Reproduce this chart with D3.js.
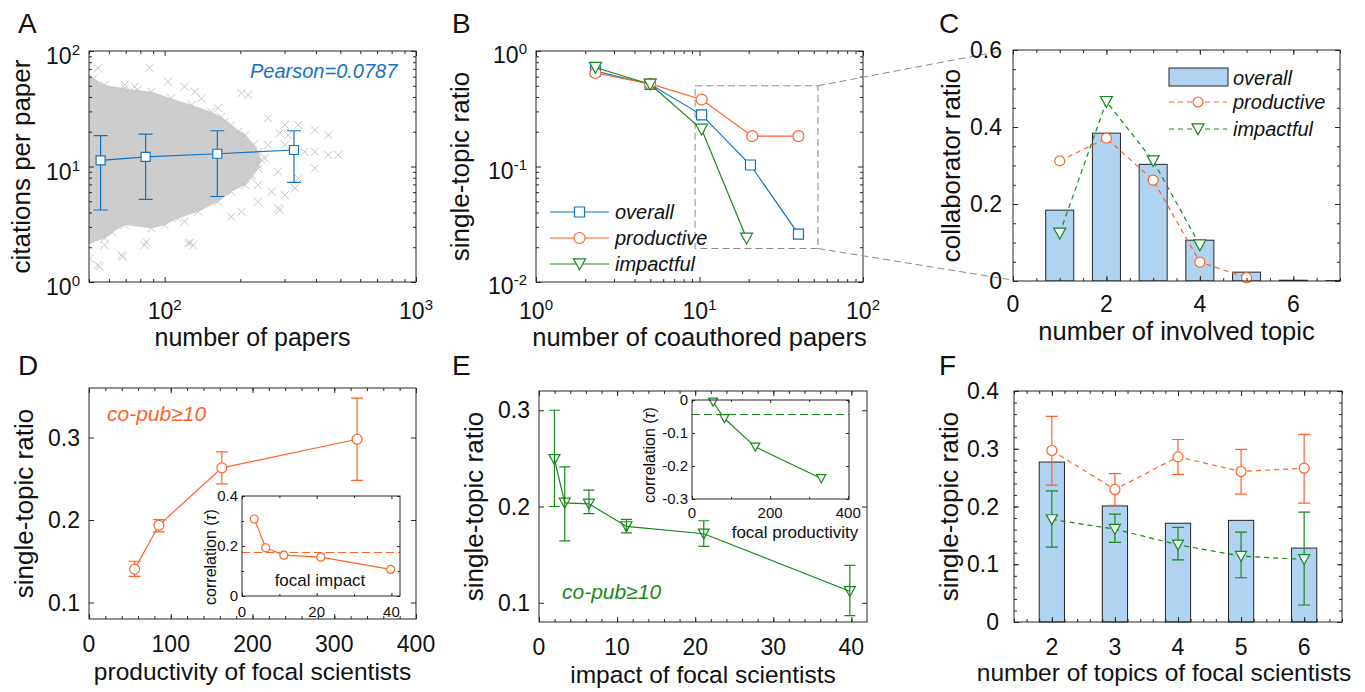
<!DOCTYPE html>
<html>
<head>
<meta charset="utf-8">
<script src="https://cdn.jsdelivr.net/npm/d3@7"></script>
<style>
  body { margin: 0; background: #fff; }
  svg text { font-family: "Liberation Sans", Arial, Helvetica, sans-serif; fill: #111; }
</style>
</head>
<body>
<script>
// ---------- data ----------
// A: citations per paper vs number of papers
var aPapers = [55.6, 84, 162, 327];
var aCiteMean = [11.3, 12.1, 12.9, 13.9];
var aCiteHi = [18.5, 19.1, 20.4, 20.4];
var aCiteLo = [4.2, 5.2, 5.5, 7.3];
// outline of the dense part of the scatter cloud
var aCloudEdge = [[46, 62], [52, 58], [57.7, 50.8], [69.3, 47.5], [78, 46], [88.6, 44.4], [106, 38.9], [128, 34.1],
  [153, 29.8], [168, 27], [184, 22.9], [209, 18.7], [226, 15.5], [236, 13.4], [242, 11.5], [236, 9.6],
  [222, 8.3], [209, 6.9], [184, 6.05], [163, 4.95], [136, 4.06], [113, 3.56], [100, 3.1], [88.5, 2.92],
  [69.3, 3.12], [62, 2.7], [57.7, 2.39], [46, 2.0]];
// scattered individual scientists outside the dense part
var aScatter = [[54.2, 70.8], [87.1, 71.6], [202, 43.0], [215, 41.6], [258, 26.1], [301, 22.9], [340, 22.9],
  [396, 20.7], [448, 18.7], [396, 13.4], [448, 12.6], [490, 12.6], [396, 9.65], [283, 9.02], [266, 6.05],
  [301, 5.66], [330, 6.48], [283, 4.35], [235, 4.96], [184, 3.68], [202, 4.06], [120, 3.33], [83.2, 2.09],
  [84.5, 2.23], [124, 2.16], [130, 2.09], [67.3, 1.71], [54.2, 1.40], [57.7, 2.09], [50.2, 1.60], [235, 6.92],
  [221, 7.9], [235, 10.3], [202, 15.4], [196, 20.0], [173, 24.4], [163, 31.9], [140, 38.9], [132, 44.4],
  [120, 49.1], [103, 54.2], [75.9, 49.1], [69.3, 50.8], [340, 7.9], [310, 18.7], [287, 19.4], [250, 11.8],
  [258, 15.4], [301, 15.4], [361, 13.4], [287, 4.2], [55.1, 1.36], [68.1, 1.66], [126, 2.18]];
var aXTicks = [100, 1000];
var aYTicks = [1, 10, 100];

// B: single-topic ratio vs number of coauthored papers
var bOverallX = [2.31, 4.99, 10.3, 20.5, 40.3];
var bOverall = [0.67, 0.515, 0.28, 0.103, 0.026];
var bProductiveX = [2.31, 4.99, 10.3, 21, 40.3];
var bProductive = [0.645, 0.52, 0.38, 0.183, 0.183];
var bImpactfulX = [2.31, 4.99, 10.3, 19.4];
var bImpactful = [0.72, 0.515, 0.21, 0.0239];
var bZoomX = [9.4, 53];
var bZoomY = [0.0195, 0.5];
var bXTicks = [1, 10, 100];
var bYTicks = [0.01, 0.1, 1];

// C: collaborator ratio vs number of involved topic
var cTopics = [1, 2, 3, 4, 5, 6, 7];
var cOverall = [0.184, 0.384, 0.303, 0.106, 0.023, 0.002, 0.001];
var cProductive = [0.312, 0.371, 0.262, 0.049, 0.0086];
var cImpactful = [0.124, 0.466, 0.312, 0.0935];
var cXTicks = [0, 2, 4, 6];
var cYTicks = [0, 0.2, 0.4, 0.6];

// D: single-topic ratio vs productivity of focal scientists (co-pub >= 10)
var dProd = [55.8, 85.5, 162.5, 328];
var dRatio = [0.1405, 0.1936, 0.2632, 0.2979];
var dHi = [0.150, 0.2005, 0.2826, 0.3478];
var dLo = [0.1316, 0.1855, 0.2437, 0.2480];
var dXTicks = [0, 100, 200, 300, 400];
var dYTicks = [0.1, 0.2, 0.3];
var dInImpact = [3.3, 6.35, 11.2, 21.1, 39.8];
var dInCorr = [0.308, 0.193, 0.1635, 0.1555, 0.1065];
var dInCorrAll = 0.174;
var dInXTicks = [0, 20, 40];
var dInYTicks = [0, 0.2, 0.4];

// E: single-topic ratio vs impact of focal scientists (co-pub >= 10)
var eImpact = [1.98, 3.3, 6.39, 11.2, 21.1, 39.8];
var eRatio = [0.249, 0.2038, 0.2028, 0.1793, 0.1717, 0.112];
var eHi = [0.300, 0.2412, 0.2170, 0.1866, 0.1852, 0.1388];
var eLo = [0.200, 0.1643, 0.1927, 0.1727, 0.1585, 0.0866];
var eXTicks = [0, 10, 20, 30, 40];
var eYTicks = [0.1, 0.2, 0.3];
var eInProd = [54, 83, 162, 331];
var eInCorr = [-0.006, -0.056, -0.142, -0.238];
var eInCorrAll = -0.044;
var eInXTicks = [0, 200, 400];
var eInYTicks = [-0.3, -0.2, -0.1, 0];

// F: single-topic ratio vs number of topics of focal scientists
var fTopics = [2, 3, 4, 5, 6];
var fOverall = [0.277, 0.201, 0.171, 0.176, 0.128];
var fProductive = [0.297, 0.2295, 0.286, 0.2606, 0.2663];
var fProductiveHi = [0.356, 0.257, 0.316, 0.299, 0.325];
var fProductiveLo = [0.237, 0.202, 0.2555, 0.2214, 0.2058];
var fImpactful = [0.1776, 0.1608, 0.1337, 0.1141, 0.1084];
var fImpactfulHi = [0.2271, 0.1868, 0.1637, 0.1556, 0.1902];
var fImpactfulLo = [0.1297, 0.1378, 0.1077, 0.0766, 0.0294];
var fXTicks = [2, 3, 4, 5, 6];
var fYTicks = [0, 0.1, 0.2, 0.3, 0.4];

// ---------- styles ----------
var INK = "#262626", BLUE = "#1272c2", ORANGE = "#ff6326", GREEN = "#16891a";
var BAR = "#b1d3f2", CLOUD = "#cdcdcd", XMARK = "#c6c6c6";
var TICK_FS = 23, LABEL_FS = 26, LETTER_FS = 28;

var svg = d3.select("body").append("svg")
  .attr("width", 1365)
  .attr("height", 692);

// ---------- helpers ----------
// box with inward ticks on all four sides, built from d3 axes
function frame(g, x, y, o) {
  var xr = x.range(), yr = y.range();
  function ax(gen, tr, vals, len) {
    g.append("g").attr("transform", tr)
      .call(gen.tickValues(vals).tickSize(-len).tickFormat(""))
      .call(function (s) {
        s.select(".domain").remove();
        s.selectAll("line").attr("stroke", INK).attr("stroke-width", 1);
      });
  }
  var t = o.t || 5, tm = o.tm || 3;
  [[o.xMinor || [], tm], [o.xMajor, t]].forEach(function (p) {
    ax(d3.axisBottom(x), "translate(0," + yr[0] + ")", p[0], p[1]);
    ax(d3.axisTop(x), "translate(0," + yr[1] + ")", p[0], p[1]);
  });
  [[o.yMinor || [], tm], [o.yMajor, t]].forEach(function (p) {
    ax(d3.axisLeft(y), "translate(" + xr[0] + ",0)", p[0], p[1]);
    ax(d3.axisRight(y), "translate(" + xr[1] + ",0)", p[0], p[1]);
  });
  g.append("rect")
    .attr("x", xr[0]).attr("y", yr[1])
    .attr("width", xr[1] - xr[0]).attr("height", yr[0] - yr[1])
    .attr("fill", "none").attr("stroke", INK).attr("stroke-width", 1);
}

function logMinor(domain) {
  var out = [];
  var lo = Math.floor(Math.log10(domain[0])), hi = Math.ceil(Math.log10(domain[1]));
  for (var e = lo; e < hi; e++) {
    for (var k = 2; k <= 9; k++) {
      var v = k * Math.pow(10, e);
      if (v >= domain[0] && v <= domain[1]) out.push(v);
    }
  }
  return out;
}

function putTick(t, v, log, fs) {
  if (log) {
    t.append("tspan").text("10");
    t.append("tspan").attr("dy", -9).attr("font-size", Math.round(fs * 0.66))
      .text(Math.round(Math.log10(v)));
  } else {
    t.text(String(v));
  }
}

function xTickLabels(g, x, vals, base, log, fs) {
  vals.forEach(function (v) {
    var t = g.append("text")
      .attr("x", x(v)).attr("y", base)
      .attr("text-anchor", "middle")
      .attr("font-size", fs);
    putTick(t, v, log, fs);
  });
}

function yTickLabels(g, y, vals, right, shift, log, fs) {
  vals.forEach(function (v) {
    var t = g.append("text")
      .attr("x", right).attr("y", y(v) + shift)
      .attr("text-anchor", "end")
      .attr("font-size", fs);
    putTick(t, v, log, fs);
  });
}

function xTitle(g, txt, cx, base, fs) {
  return g.append("text").attr("x", cx).attr("y", base)
    .attr("text-anchor", "middle").attr("font-size", fs || LABEL_FS).text(txt);
}

function yTitle(g, txt, bx, cy, fs) {
  return g.append("text")
    .attr("transform", "translate(" + bx + "," + cy + ") rotate(-90)")
    .attr("text-anchor", "middle").attr("font-size", fs || LABEL_FS).text(txt);
}

function corrTitle(g, bx, cy) {
  var t = g.append("text")
    .attr("transform", "translate(" + bx + "," + cy + ") rotate(-90)")
    .attr("text-anchor", "middle").attr("font-size", 16);
  t.append("tspan").text("correlation (");
  t.append("tspan").attr("font-style", "italic").text("\u03c4");
  t.append("tspan").text(")");
}

function letter(txt, x, y) {
  svg.append("text").attr("x", x).attr("y", y).attr("font-size", LETTER_FS).text(txt);
}

function series(g, x, y, xs, ys, col, dash, width) {
  var pts = d3.zip(xs, ys);
  g.append("path").datum(pts)
    .attr("d", d3.line().x(function (d) { return x(d[0]); }).y(function (d) { return y(d[1]); }))
    .attr("fill", "none").attr("stroke", col).attr("stroke-width", width || 1.2)
    .attr("stroke-dasharray", dash || null);
  return pts;
}

function errorBars(g, x, y, xs, lo, hi, col, cap) {
  g.selectAll(null).data(d3.range(xs.length)).join("path")
    .attr("d", function (i) {
      var px = x(xs[i]), y1 = y(hi[i]), y2 = y(lo[i]);
      return "M" + px + "," + y1 + "V" + y2 +
        "M" + (px - cap) + "," + y1 + "H" + (px + cap) +
        "M" + (px - cap) + "," + y2 + "H" + (px + cap);
    })
    .attr("fill", "none").attr("stroke", col).attr("stroke-width", 1.2);
}

function markers(g, x, y, pts, kind, size, col, fill) {
  var h = size / 2;
  var shape = kind === "square" ? "M" + (-h) + "," + (-h) + "H" + h + "V" + h + "H" + (-h) + "Z"
    : kind === "tri" ? "M" + (-h) + "," + (-h * 0.85) + "H" + h + "L0," + (h * 0.95) + "Z"
    : "M" + (-h) + ",0A" + h + "," + h + " 0 1,0 " + h + ",0A" + h + "," + h + " 0 1,0 " + (-h) + ",0Z";
  g.selectAll(null).data(pts).join("path")
    .attr("d", shape)
    .attr("transform", function (d) { return "translate(" + x(d[0]) + "," + y(d[1]) + ")"; })
    .attr("fill", fill === undefined ? "#fff" : fill)
    .attr("stroke", col).attr("stroke-width", 1.2);
}

function legendRow(g, x0, x1, yc, col, dash, kind, size, txt, tx) {
  g.append("line").attr("x1", x0).attr("x2", x1).attr("y1", yc).attr("y2", yc)
    .attr("stroke", col).attr("stroke-width", 1.2).attr("stroke-dasharray", dash || null);
  var id = d3.scaleIdentity();
  markers(g, id, id, [[(x0 + x1) / 2, yc]], kind, size, col);
  g.append("text").attr("x", tx).attr("y", yc + 7).attr("font-size", 20)
    .attr("font-style", "italic").text(txt);
}

// ---------- panel A ----------
var gA = svg.append("g");
var xA = d3.scaleLog().domain([50, 1000]).range([89, 416]);
var yA = d3.scaleLog().domain([1, 100]).range([282, 51]);
svg.append("clipPath").attr("id", "clipA").append("rect")
  .attr("x", 89).attr("y", 51).attr("width", 327).attr("height", 231);
var cA = gA.append("g").attr("clip-path", "url(#clipA)");
cA.append("path").datum(aCloudEdge)
  .attr("d", d3.line().x(function (d) { return xA(d[0]); }).y(function (d) { return yA(d[1]); })
    .curve(d3.curveLinearClosed))
  .attr("fill", CLOUD);
cA.selectAll(null).data(aScatter.concat(aCloudEdge)).join("path")
  .attr("d", "M-4,-4L4,4M-4,4L4,-4")
  .attr("transform", function (d) { return "translate(" + xA(d[0]) + "," + yA(d[1]) + ")"; })
  .attr("stroke", XMARK).attr("stroke-width", 1);
errorBars(gA, xA, yA, aPapers, aCiteLo, aCiteHi, BLUE, 7);
markers(gA, xA, yA, series(gA, xA, yA, aPapers, aCiteMean, BLUE), "square", 9, BLUE);
gA.append("text").attr("x", 250).attr("y", 78).attr("font-size", 20)
  .attr("font-style", "italic").style("fill", BLUE).text("Pearson=0.0787");
frame(gA, xA, yA, { xMajor: aXTicks, xMinor: logMinor(xA.domain()), yMajor: aYTicks, yMinor: logMinor(yA.domain()) });
xTickLabels(gA, xA, aXTicks, 319, true, TICK_FS);
yTickLabels(gA, yA, aYTicks, 80, 13, true, TICK_FS);
xTitle(gA, "number of papers", 252.5, 346, 25);
yTitle(gA, "citations per paper", 30, 166.5);
letter("A", 18, 33);

// ---------- panel B ----------
var gB = svg.append("g");
var xB = d3.scaleLog().domain([1, 100]).range([536, 863]);
var yB = d3.scaleLog().domain([0.01, 1]).range([282, 51]);
gB.append("rect")
  .attr("x", xB(bZoomX[0])).attr("y", yB(bZoomY[1]))
  .attr("width", xB(bZoomX[1]) - xB(bZoomX[0])).attr("height", yB(bZoomY[0]) - yB(bZoomY[1]))
  .attr("fill", "none").attr("stroke", "#8a8a8a").attr("stroke-width", 1).attr("stroke-dasharray", "7,4");
markers(gB, xB, yB, series(gB, xB, yB, bOverallX, bOverall, BLUE), "square", 10, BLUE);
markers(gB, xB, yB, series(gB, xB, yB, bProductiveX, bProductive, ORANGE), "circle", 11, ORANGE);
markers(gB, xB, yB, series(gB, xB, yB, bImpactfulX, bImpactful, GREEN), "tri", 12, GREEN);
frame(gB, xB, yB, { xMajor: bXTicks, xMinor: logMinor(xB.domain()), yMajor: bYTicks, yMinor: logMinor(yB.domain()) });
xTickLabels(gB, xB, bXTicks, 319, true, TICK_FS);
yTickLabels(gB, yB, bYTicks, 527, 12, true, TICK_FS);
legendRow(gB, 550, 609, 212, BLUE, null, "square", 10, "overall", 615);
legendRow(gB, 550, 609, 238, ORANGE, null, "circle", 11, "productive", 615);
legendRow(gB, 550, 609, 264, GREEN, null, "tri", 12, "impactful", 615);
xTitle(gB, "number of coauthored papers", 699.5, 346, 25.5);
yTitle(gB, "single-topic ratio", 469, 166.5);
letter("B", 452, 33);

// ---------- panel C ----------
var gC = svg.append("g");
var xC = d3.scaleLinear().domain([0, 7]).range([1013, 1340]);
var yC = d3.scaleLinear().domain([0, 0.6]).range([281, 50]);
// connectors from the zoom box in B to the axes of C
gB.append("path")
  .attr("d", "M" + xB(bZoomX[1]) + "," + yB(bZoomY[1]) + "L" + (xC(0) - 12) + "," + (yC(0.6) + 1) +
    "M" + xB(bZoomX[1]) + "," + yB(bZoomY[0]) + "L" + (xC(0) - 4) + "," + (yC(0) - 1.5))
  .attr("fill", "none").attr("stroke", "#8a8a8a").attr("stroke-width", 1).attr("stroke-dasharray", "7,4");
svg.append("clipPath").attr("id", "clipC").append("rect")
  .attr("x", 1013).attr("y", 50).attr("width", 327).attr("height", 231);
gC.append("g").attr("clip-path", "url(#clipC)")
  .selectAll("rect").data(d3.zip(cTopics, cOverall)).join("rect")
  .attr("x", function (d) { return xC(d[0] - 0.3); })
  .attr("width", function (d) { return xC(d[0] + 0.3) - xC(d[0] - 0.3); })
  .attr("y", function (d) { return yC(d[1]); })
  .attr("height", function (d) { return yC(0) - yC(d[1]); })
  .attr("fill", BAR).attr("stroke", INK).attr("stroke-width", 1);
markers(gC, xC, yC, series(gC, xC, yC, cTopics.slice(0, cProductive.length), cProductive, ORANGE, "5,4"), "circle", 10, ORANGE);
markers(gC, xC, yC, series(gC, xC, yC, cTopics.slice(0, cImpactful.length), cImpactful, GREEN, "5,4"), "tri", 12, GREEN);
frame(gC, xC, yC, { xMajor: cXTicks, xMinor: d3.range(0.5, 7.01, 0.5), yMajor: cYTicks, yMinor: d3.range(0.05, 0.6, 0.05) });
xTickLabels(gC, xC, cXTicks, 312, false, TICK_FS);
yTickLabels(gC, yC, cYTicks, 1002, 8, false, TICK_FS);
gC.append("rect").attr("x", 1169).attr("y", 68).attr("width", 59).attr("height", 18)
  .attr("fill", BAR).attr("stroke", INK).attr("stroke-width", 1);
gC.append("text").attr("x", 1233).attr("y", 85).attr("font-size", 20).attr("font-style", "italic").text("overall");
legendRow(gC, 1169, 1227, 102, ORANGE, "5,4", "circle", 10, "productive", 1233);
legendRow(gC, 1169, 1227, 129, GREEN, "5,4", "tri", 12, "impactful", 1233);
xTitle(gC, "number of involved topic", 1176.5, 340, 25.5);
yTitle(gC, "collaborator ratio", 960, 165.5);
letter("C", 939, 33);

// ---------- panel D ----------
var gD = svg.append("g");
var xD = d3.scaleLinear().domain([0, 400]).range([89, 416]);
var yD = d3.scaleLinear().domain([0.08, 0.36]).range([619, 388]);
errorBars(gD, xD, yD, dProd, dLo, dHi, ORANGE, 6);
markers(gD, xD, yD, series(gD, xD, yD, dProd, dRatio, ORANGE), "circle", 10, ORANGE);
frame(gD, xD, yD, { xMajor: dXTicks, xMinor: d3.range(20, 400, 20), yMajor: dYTicks });
xTickLabels(gD, xD, dXTicks, 652, false, TICK_FS);
yTickLabels(gD, yD, dYTicks, 80, 8, false, TICK_FS);
gD.append("text").attr("x", 107).attr("y", 421).attr("font-size", 21)
  .attr("font-style", "italic").style("fill", ORANGE).text("co-pub\u226510");
// inset: correlation vs focal impact
var xDi = d3.scaleLinear().domain([0, 42.3]).range([242, 400]);
var yDi = d3.scaleLinear().domain([0, 0.4]).range([596, 496]);
gD.append("rect").attr("x", 242).attr("y", 496).attr("width", 158).attr("height", 100).attr("fill", "#fff");
gD.append("line").attr("x1", xDi(0)).attr("x2", xDi(42.3)).attr("y1", yDi(dInCorrAll)).attr("y2", yDi(dInCorrAll))
  .attr("stroke", ORANGE).attr("stroke-width", 1.2).attr("stroke-dasharray", "8,4");
markers(gD, xDi, yDi, series(gD, xDi, yDi, dInImpact, dInCorr, ORANGE), "circle", 8, ORANGE);
frame(gD, xDi, yDi, { xMajor: dInXTicks, xMinor: [10, 30], yMajor: dInYTicks, yMinor: [0.1, 0.3], t: 3, tm: 2 });
xTickLabels(gD, xDi, dInXTicks, 617, false, 15);
yTickLabels(gD, yDi, dInYTicks, 238, 5, false, 15);
gD.append("text").attr("x", 320).attr("y", 586).attr("text-anchor", "middle").attr("font-size", 17).text("focal impact");
corrTitle(gD, 216, 557);
xTitle(gD, "productivity of focal scientists", 252.5, 680, 24.5);
yTitle(gD, "single-topic ratio", 33, 503.5);
letter("D", 18, 375);

// ---------- panel E ----------
var gE = svg.append("g");
var xE = d3.scaleLinear().domain([0, 42]).range([539, 867]);
var yE = d3.scaleLinear().domain([0.08, 0.32]).range([622, 391]);
errorBars(gE, xE, yE, eImpact, eLo, eHi, GREEN, 5.5);
markers(gE, xE, yE, series(gE, xE, yE, eImpact, eRatio, GREEN), "tri", 11, GREEN, "none");
frame(gE, xE, yE, { xMajor: eXTicks, xMinor: d3.range(2, 42, 2), yMajor: eYTicks });
xTickLabels(gE, xE, eXTicks, 655, false, TICK_FS);
yTickLabels(gE, yE, eYTicks, 530, 8, false, TICK_FS);
gE.append("text").attr("x", 562).attr("y", 599).attr("font-size", 21)
  .attr("font-style", "italic").style("fill", GREEN).text("co-pub\u226510");
// inset: correlation vs focal productivity
var xEi = d3.scaleLinear().domain([0, 402]).range([692, 849]);
var yEi = d3.scaleLinear().domain([-0.3, 0]).range([499, 400]);
gE.append("rect").attr("x", 692).attr("y", 400).attr("width", 157).attr("height", 99).attr("fill", "#fff");
gE.append("line").attr("x1", xEi(0)).attr("x2", xEi(402)).attr("y1", yEi(eInCorrAll)).attr("y2", yEi(eInCorrAll))
  .attr("stroke", GREEN).attr("stroke-width", 1.2).attr("stroke-dasharray", "8,4");
markers(gE, xEi, yEi, series(gE, xEi, yEi, eInProd, eInCorr, GREEN), "tri", 9, GREEN);
frame(gE, xEi, yEi, { xMajor: eInXTicks, xMinor: [100, 300], yMajor: eInYTicks, t: 3, tm: 2 });
xTickLabels(gE, xEi, eInXTicks, 518, false, 15);
yTickLabels(gE, yEi, eInYTicks, 688, 5, false, 15);
gE.append("text").attr("x", 795).attr("y", 538).attr("text-anchor", "middle").attr("font-size", 17).text("focal productivity");
corrTitle(gE, 655, 455);
xTitle(gE, "impact of focal scientists", 703, 683, 24.5);
yTitle(gE, "single-topic ratio", 483, 506.5);
letter("E", 452, 375);

// ---------- panel F ----------
var gF = svg.append("g");
var xF = d3.scaleLinear().domain([1.4, 6.6]).range([1014, 1342]);
var yF = d3.scaleLinear().domain([0, 0.4]).range([622, 391]);
gF.selectAll("rect").data(d3.zip(fTopics, fOverall)).join("rect")
  .attr("x", function (d) { return xF(d[0] - 0.2); })
  .attr("width", function (d) { return xF(d[0] + 0.2) - xF(d[0] - 0.2); })
  .attr("y", function (d) { return yF(d[1]); })
  .attr("height", function (d) { return yF(0) - yF(d[1]); })
  .attr("fill", BAR).attr("stroke", INK).attr("stroke-width", 1);
var fpPts = series(gF, xF, yF, fTopics, fProductive, ORANGE, "5,4");
errorBars(gF, xF, yF, fTopics, fProductiveLo, fProductiveHi, ORANGE, 6);
markers(gF, xF, yF, fpPts, "circle", 10, ORANGE);
var fiPts = series(gF, xF, yF, fTopics, fImpactful, GREEN, "5,4");
errorBars(gF, xF, yF, fTopics, fImpactfulLo, fImpactfulHi, GREEN, 6);
markers(gF, xF, yF, fiPts, "tri", 11, GREEN);
frame(gF, xF, yF, { xMajor: fXTicks, xMinor: d3.range(1.4, 6.61, 0.2), yMajor: fYTicks, yMinor: d3.range(0.02, 0.4, 0.02) });
xTickLabels(gF, xF, fXTicks, 655, false, TICK_FS);
yTickLabels(gF, yF, fYTicks, 999, 8, false, TICK_FS);
xTitle(gF, "number of topics of focal scientists", 1164, 681, 24.5);
yTitle(gF, "single-topic ratio", 958, 506.5);
letter("F", 939, 375);
</script>
</body>
</html>
